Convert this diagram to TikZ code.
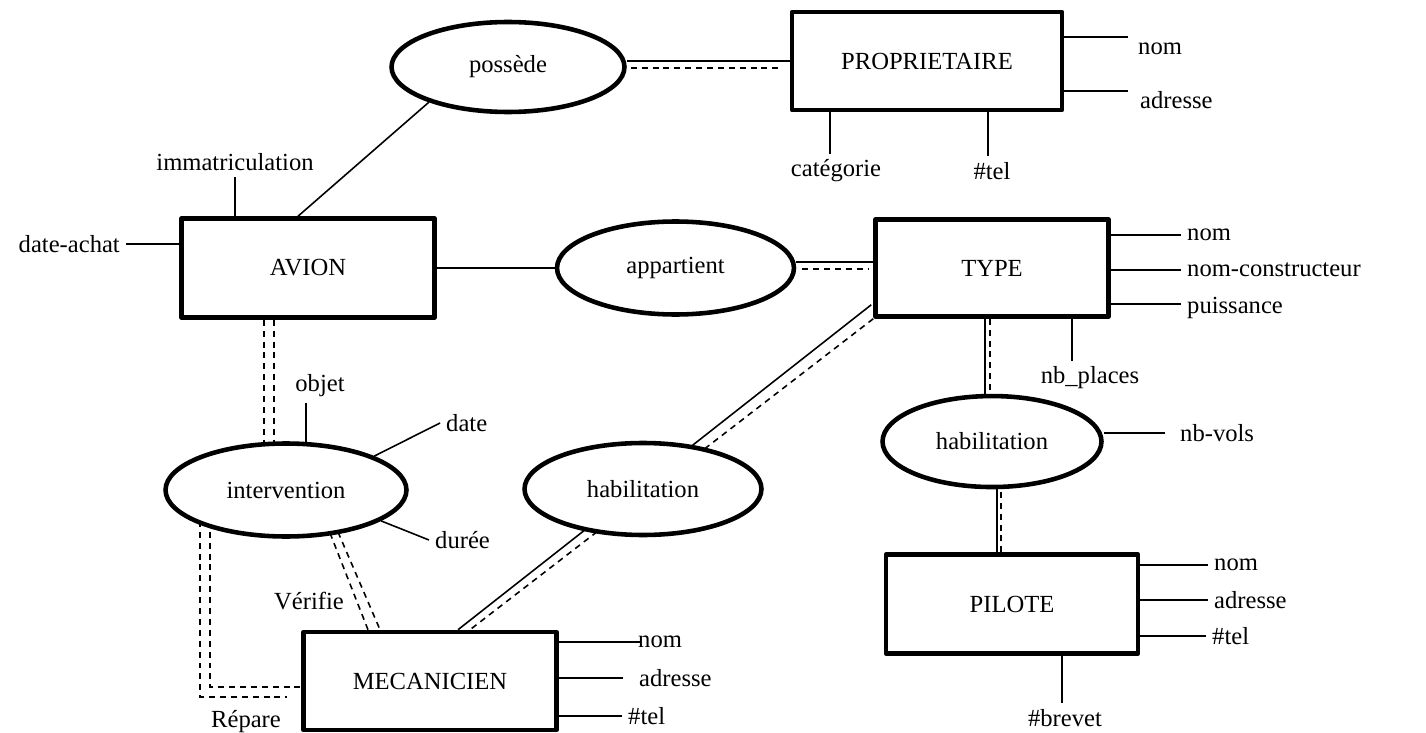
\documentclass[tikz,border=0pt]{standalone}
\usepackage{fontspec}
\setmainfont{Liberation Serif}
\usetikzlibrary{positioning, calc, shapes.geometric}
\pgfdeclarelayer{background}
\pgfsetlayers{background,main}
\tikzset{
    every node/.style={font=\fontsize{14}{17}\selectfont},
    entite/.style={draw, rectangle, line width=2.6pt, line join=round, fill=white},
    relation/.style={draw, ellipse, line width=2.6pt, fill=white, inner sep=0pt},
    lien/.style={line width=0.9pt},
    pointille/.style={line width=0.9pt, dash pattern=on 3.4pt off 2.8pt},
}

\begin{document}
\begin{tikzpicture}[x=0.02cm, y=-0.02cm]
    \useasboundingbox (0,0) rectangle (1426,733);

    % entites et associations
    \node[entite, minimum width=5.4cm, minimum height=1.96cm] (proprio) at (927,61) {PROPRIETAIRE};
    \node[relation, minimum width=4.66cm, minimum height=1.8cm] (possede) at (508,67) {possède};
    \node[entite, minimum width=5.06cm, minimum height=1.98cm] (avion) at (308,268) {AVION};
    \node[relation, minimum width=4.74cm, minimum height=1.86cm, right=2.36cm of avion] (appart) {appartient};
    \node[entite, minimum width=4.66cm, minimum height=1.94cm, right=1.54cm of appart] (type) {TYPE};
    \node[relation, minimum width=4.38cm, minimum height=1.82cm, below=1.5cm of type] (hab2) {habilitation};
    \node[entite, minimum width=5.04cm, minimum height=1.98cm, below=1.26cm of hab2, xshift=0.4cm] (pilote) {PILOTE};
    \node[relation, minimum width=4.82cm, minimum height=1.86cm] (interv) at (286,490) {intervention};
    \node[relation, minimum width=4.74cm, minimum height=1.84cm] (hab1) at (643,489) {habilitation};
    \node[entite, minimum width=5.06cm, minimum height=1.96cm] (mec) at (430,681) {MECANICIEN};

    % attributs
    \node[anchor=west] (pnom) at (1132,49) {nom};
    \node[anchor=west] (padr) at (1134,100) {adresse};
    \node (pcat) at (836,171) {catégorie};
    \node (ptel) at (992,171) {\#tel};
    \node (aimm) at (235,162) {immatriculation};
    \node[anchor=east] (adate) at (126,244) {date-achat};
    \node[anchor=west] (tnom) at (1181,235) {nom};
    \node[anchor=west] (tcons) at (1181,270) {nom-constructeur};
    \node[anchor=west] (tpuis) at (1181,308) {puissance};
    \node (tnb) at (1090,378) {nb\_places};
    \node[anchor=west] (hvols) at (1174,433) {nb-vols};
    \node[anchor=west] (pinom) at (1208,565) {nom};
    \node[anchor=west] (piadr) at (1208,600) {adresse};
    \node[anchor=west] (pitel) at (1206,636) {\#tel};
    \node (pibrev) at (1065,718) {\#brevet};
    \node[anchor=west] (mnom) at (632,642) {nom};
    \node[anchor=west] (madr) at (633,678) {adresse};
    \node[anchor=west] (mtel) at (622,716) {\#tel};
    \node (iobj) at (320,386) {objet};
    \node[anchor=west] (idate) at (440,423) {date};
    \node[anchor=west] (iduree) at (429,540) {durée};
    \node (verif) at (309,601) {Vérifie};
    \node (repare) at (246,722) {Répare};

    \begin{pgfonlayer}{background}
        % traits des attributs
        \draw[lien] ($(proprio.east |- pnom.west)+(0,-12)$) -- ($(pnom.west)+(-4,-12)$);
        \draw[lien] ($(proprio.east |- padr.west)+(0,-9)$) -- ($(padr.west)+(-6,-9)$);
        \draw[lien] ($(pcat.north)+(-6,0)$) -- ($(pcat.north |- proprio.south)+(-6,0)$);
        \draw[lien] ($(ptel.north)+(-4,0)$) -- ($(ptel.north |- proprio.south)+(-4,0)$);
        \draw[lien] (aimm.south) -- (aimm.south |- avion.north);
        \draw[lien] (adate.east) -- (adate.east -| avion.west);
        \draw[lien] (tnom.west) -- (tnom.west -| type.east);
        \draw[lien] (tcons.west) -- (tcons.west -| type.east);
        \draw[lien] ($(tpuis.west)+(0,-4)$) -- ($(tpuis.west -| type.east)+(0,-4)$);
        \draw[lien] ($(tnb.north)+(-18,0)$) -- ($(tnb.north |- type.south)+(-18,0)$);
        \draw[lien] ($(hvols.west)+(-9,0)$) -- (hvols.west -| hab2.east);
        \draw[lien] (pinom.west) -- (pinom.west -| pilote.east);
        \draw[lien] (piadr.west) -- (piadr.west -| pilote.east);
        \draw[lien] (pitel.west) -- (pitel.west -| pilote.east);
        \draw[lien] ($(pibrev.north)+(-3,0)$) -- ($(pibrev.north |- pilote.south)+(-3,0)$);
        \draw[lien] ($(mnom.west)+(8,0)$) -- (mnom.west -| mec.east);
        \draw[lien] ($(madr.west)+(-10,0)$) -- (madr.west -| mec.east);
        \draw[lien] (mtel.west) -- (mtel.west -| mec.east);
        \draw[lien] ($(iobj.south)+(-14,0)$) -- ($(iobj.south |- interv.north)+(-14,2)$);
        \draw[lien] (interv.21) -- (idate.west);
        \draw[lien] (interv.-18) -- (iduree.west);

        % possede
        \draw[lien] ($(avion.north)+(-10,0)$) -- (possede.204);
        \draw[lien] (possede.east |- proprio.west) -- (proprio.west);
        \draw[pointille] ($(possede.east |- proprio.west)+(4,7)$) -- ($(proprio.west)+(-8,7)$);
        % appartient
        \draw[lien] (avion) -- (appart);
        \draw[lien] ($(appart.east)+(0,-6)$) -- ($(type.west)+(0,-6)$);
        \draw[pointille] ($(appart.east)+(6,1)$) -- ($(type.west)+(-4,1)$);
        % habilitation pilote
        \draw[lien] ($(type.south)+(-7,0)$) -- ($(type.south |- hab2.north)+(-7,10)$);
        \draw[pointille] ($(type.south)+(-2,0)$) -- ($(type.south |- hab2.north)+(-2,4)$);
        \draw[lien] ($(pilote.north)+(-15,0)$) -- ($(pilote.north |- hab2.south)+(-15,-10)$);
        \draw[pointille] ($(pilote.north)+(-11,0)$) -- ($(pilote.north |- hab2.south)+(-11,-4)$);
        % habilitation mecanicien
        \draw[lien] ($(type.south west)+(-2,-14)$) -- ($(mec.north)+(28,0)$);
        \draw[pointille] (type.south west) -- ($(mec.north)+(40,0)$);
        % intervention
        \draw[pointille] ($(avion.south)+(-44,0)$) -- ($(avion.south |- interv.north)+(-44,10)$);
        \draw[pointille] ($(avion.south)+(-34,0)$) -- ($(avion.south |- interv.north)+(-34,10)$);
        \draw[pointille] ($(interv.center)+(44,43)$) -- ($(mec.north)+(-62,0)$);
        \draw[pointille] ($(interv.center)+(52,42)$) -- ($(mec.north)+(-50,0)$);
        \draw[pointille] ($(interv.center)+(-86,20)$) |- ($(mec.west)+(-14,16)$);
        \draw[pointille] ($(interv.center)+(-76,20)$) |- ($(mec.west)+(0,6)$);
    \end{pgfonlayer}
\end{tikzpicture}
\end{document}
